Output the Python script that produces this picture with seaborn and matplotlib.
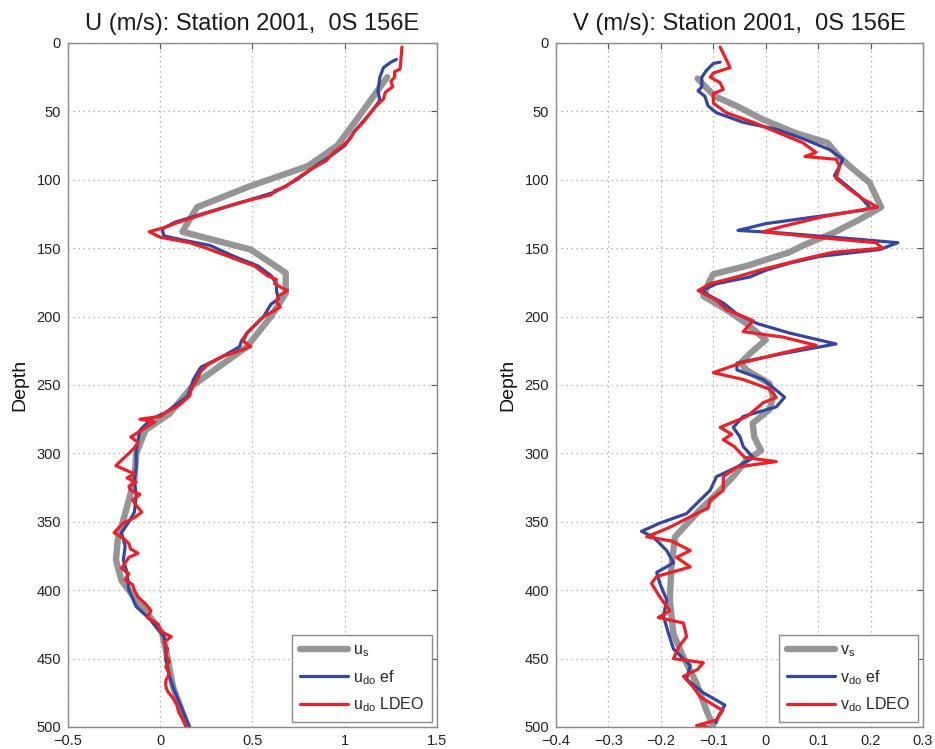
import numpy as np
import pandas as pd
import matplotlib
matplotlib.use("Agg")
import matplotlib.pyplot as plt
from matplotlib.ticker import FuncFormatter
import seaborn as sns

# ---------------- U component (m/s) ----------------
us_depth = [25, 40, 55, 75, 90, 105, 120, 138, 151, 168, 183, 200, 222, 250, 271, 283,
            300, 319, 344, 363, 378, 393, 407, 417, 431, 450, 471, 500]
us_val = [1.23, 1.15, 1.07, 0.96, 0.80, 0.48, 0.20, 0.12, 0.49, 0.68, 0.68, 0.60, 0.47,
          0.18, 0.05, -0.08, -0.13, -0.14, -0.19, -0.23, -0.24, -0.21, -0.13, -0.07,
          0.01, 0.04, 0.07, 0.15]

ub_depth = [12, 14, 18, 25, 35, 42, 51, 65, 75, 82, 90, 100, 109, 117, 124, 131, 136, 141,
            144, 148, 156, 163, 170, 176, 181, 187, 191, 200, 212, 218, 222, 229, 237, 246,
            258, 270, 275, 283, 290, 299, 310, 319, 331, 343, 350, 358, 368, 378, 387, 400,
            412, 417, 422, 434, 443, 451, 463, 471, 481, 494, 500]
ub_val = [1.28, 1.25, 1.21, 1.19, 1.18, 1.19, 1.14, 1.05, 1.00, 0.93, 0.84, 0.74, 0.62, 0.43,
          0.25, 0.08, 0.01, 0.02, 0.12, 0.27, 0.40, 0.53, 0.60, 0.63, 0.63, 0.64, 0.60, 0.56,
          0.47, 0.44, 0.43, 0.34, 0.22, 0.18, 0.15, 0.03, -0.05, -0.11, -0.12, -0.13, -0.13,
          -0.14, -0.13, -0.14, -0.17, -0.21, -0.19, -0.20, -0.18, -0.17, -0.13, -0.09, -0.05,
          0.02, 0.03, 0.03, 0.05, 0.07, 0.10, 0.14, 0.16]

ur_depth = [3, 19, 21, 25, 28, 32, 36, 41, 46, 51, 58, 65, 70, 75, 80, 86, 92, 100, 105, 108,
            111, 117, 124, 131, 135, 138, 142, 146, 150, 156, 163, 170, 173, 176, 179, 181,
            185, 189, 193, 197, 200, 212, 218, 222, 226, 229, 235, 240, 246, 252, 258, 265,
            270, 273, 275, 277, 283, 288, 292, 296, 300, 305, 309, 312, 315, 318, 321, 324,
            327, 330, 334, 338, 343, 347, 351, 355, 358, 362, 366, 370, 373, 376, 380, 384,
            388, 392, 396, 400, 405, 410, 415, 420, 425, 430, 434, 438, 443, 448, 452, 456,
            461, 466, 470, 474, 479, 484, 489, 494, 500]
ur_val = [1.31, 1.30, 1.27, 1.27, 1.25, 1.26, 1.22, 1.21, 1.17, 1.14, 1.10, 1.05, 1.03, 0.99,
          0.94, 0.90, 0.82, 0.73, 0.68, 0.62, 0.60, 0.42, 0.26, 0.10, 0.02, -0.06, 0.0, 0.16,
          0.25, 0.37, 0.51, 0.58, 0.63, 0.62, 0.66, 0.69, 0.64, 0.63, 0.65, 0.60, 0.56, 0.47,
          0.45, 0.49, 0.41, 0.34, 0.26, 0.22, 0.20, 0.17, 0.16, 0.10, 0.03, 0.0, -0.11, -0.03,
          -0.10, -0.16, -0.12, -0.14, -0.17, -0.21, -0.24, -0.19, -0.14, -0.18, -0.13, -0.17,
          -0.16, -0.11, -0.15, -0.13, -0.10, -0.14, -0.20, -0.23, -0.25, -0.20, -0.17, -0.16,
          -0.12, -0.17, -0.19, -0.21, -0.17, -0.19, -0.15, -0.14, -0.12, -0.08, -0.05, -0.07,
          -0.01, 0.00, 0.06, 0.02, 0.04, 0.03, 0.05, 0.03, 0.05, 0.03, 0.03, 0.04, 0.07, 0.09,
          0.10, 0.12, 0.14]

# ---------------- V component (m/s) ----------------
vs_depth = [26, 32, 39, 46, 56, 66, 73, 83, 92, 102, 112, 120, 129, 139, 148, 153, 163, 169,
            173, 185, 195, 205, 217, 227, 234, 239, 249, 259, 268, 278, 288, 298, 305, 317,
            332, 341, 349, 361, 383, 407, 432, 449, 468, 488, 500]
vs_val = [-0.13, -0.115, -0.097, -0.056, -0.005, 0.058, 0.118, 0.14, 0.166, 0.198, 0.21, 0.22,
          0.179, 0.128, 0.071, 0.045, -0.037, -0.10, -0.106, -0.119, -0.075, -0.037, 0.0,
          -0.03, -0.048, -0.037, 0.007, 0.014, 0.007, -0.025, -0.022, -0.009, -0.037, -0.062,
          -0.10, -0.125, -0.144, -0.173, -0.18, -0.183, -0.176, -0.157, -0.132, -0.113, -0.10]

vb_depth = [14, 15, 20, 25, 32, 35, 39, 46, 51, 58, 63, 70, 78, 85, 90, 97, 105, 112, 120,
            122, 127, 132, 137, 139, 144, 146, 151, 156, 161, 166, 171, 176, 181, 185, 190,
            198, 205, 212, 220, 227, 234, 239, 246, 256, 259, 266, 273, 281, 288, 295, 303,
            310, 317, 327, 336, 344, 351, 357, 361, 371, 380, 387, 395, 407, 419, 431, 443,
            455, 465, 475, 484, 492, 497]
vb_val = [-0.087, -0.10, -0.113, -0.122, -0.122, -0.129, -0.116, -0.11, -0.094, -0.043, 0.02,
          0.071, 0.122, 0.147, 0.141, 0.131, 0.157, 0.179, 0.198, 0.19, 0.096, 0.001, -0.053,
          0.033, 0.192, 0.252, 0.217, 0.103, 0.045, 0.001, -0.03, -0.094, -0.122, -0.106,
          -0.081, -0.055, -0.017, 0.045, 0.134, 0.033, -0.055, -0.055, -0.005, 0.027, 0.036,
          0.02, -0.043, -0.062, -0.049, -0.043, -0.024, -0.055, -0.094, -0.106, -0.13, -0.151,
          -0.202, -0.237, -0.215, -0.189, -0.176, -0.208, -0.202, -0.189, -0.195, -0.186,
          -0.176, -0.144, -0.151, -0.119, -0.078, -0.09, -0.095]

vr_depth = [3, 10, 18, 22, 25, 29, 34, 37, 44, 51, 58, 66, 73, 80, 83, 85, 90, 99, 107, 114,
            120, 127, 134, 138, 142, 146, 150, 153, 158, 166, 171, 176, 181, 188, 195, 203,
            211, 215, 221, 227, 234, 241, 246, 253, 259, 263, 267, 273, 281, 286, 290, 295,
            303, 306, 310, 317, 327, 334, 340, 344, 354, 361, 364, 371, 376, 383, 390, 395,
            405, 415, 420, 424, 434, 441, 450, 453, 458, 463, 471, 478, 488, 495, 499, 500]
vr_val = [-0.087, -0.078, -0.068, -0.10, -0.106, -0.087, -0.081, -0.10, -0.10, -0.075, -0.024,
          0.027, 0.071, 0.096, 0.075, 0.134, 0.141, 0.134, 0.16, 0.185, 0.213, 0.109, 0.033,
          -0.005, 0.096, 0.21, 0.223, 0.128, 0.071, -0.011, -0.055, -0.106, -0.129, -0.094,
          -0.075, -0.024, -0.043, 0.033, 0.096, 0.027, -0.048, -0.10, -0.043, 0.007, 0.02,
          -0.005, -0.017, -0.036, -0.087, -0.065, -0.081, -0.06, -0.04, 0.02, -0.055, -0.081,
          -0.081, -0.106, -0.11, -0.132, -0.183, -0.227, -0.18, -0.144, -0.17, -0.144, -0.208,
          -0.218, -0.202, -0.183, -0.205, -0.157, -0.151, -0.165, -0.176, -0.119, -0.13,
          -0.157, -0.138, -0.125, -0.082, -0.095, -0.132, -0.11]

depth_ticks = [0, 50, 100, 150, 200, 250, 300, 350, 400, 450, 500]
u_ticks = [-0.5, 0, 0.5, 1, 1.5]
v_ticks = [-0.4, -0.3, -0.2, -0.1, 0, 0.1, 0.2, 0.3]

GRAY = "#959595"
BLUE = "#3447a0"
RED = "#ee1f26"
FRAME = "#8a8a8a"

sns.set_theme(style="white")
plt.rcParams["font.family"] = ["Liberation Sans", "DejaVu Sans"]
plt.rcParams["mathtext.fontset"] = "custom"
plt.rcParams["mathtext.rm"] = "Liberation Sans"
plt.rcParams["mathtext.it"] = "Liberation Sans"
plt.rcParams["axes.unicode_minus"] = True

fig = plt.figure(figsize=(9.35, 7.49), dpi=100)
ax_u = fig.add_axes([0.0727, 0.0294, 0.3947, 0.9132])
ax_v = fig.add_axes([0.5947, 0.0294, 0.3925, 0.9132])


def fmt(x, pos):
    s = "%g" % x
    return s.replace("-", "\u2212")


def draw_profile(ax, comp, s_d, s_v, b_d, b_v, r_d, r_v, xlim, xticks):
    frames = [
        (pd.DataFrame({"val": s_v, "depth": s_d}), GRAY, 4.6,
         r"$\mathregular{%s_{s}}$" % comp),
        (pd.DataFrame({"val": b_v, "depth": b_d}), BLUE, 2.3,
         r"$\mathregular{%s_{do}}$ ef" % comp),
        (pd.DataFrame({"val": r_v, "depth": r_d}), RED, 2.3,
         r"$\mathregular{%s_{do}}$ LDEO" % comp),
    ]
    for df, col, lw, lab in frames:
        sns.lineplot(data=df, x="val", y="depth", orient="y", sort=False,
                     estimator=None, color=col, linewidth=lw, label=lab, ax=ax)

    ax.set_xlim(*xlim)
    ax.set_ylim(500, 0)
    ax.set_xticks(xticks)
    ax.set_yticks(depth_ticks)
    ax.xaxis.set_major_formatter(FuncFormatter(fmt))
    ax.grid(True, linestyle=(0, (1, 3)), color="#a0a0a0", linewidth=0.9)
    for sp in ax.spines.values():
        sp.set_color(FRAME)
        sp.set_linewidth(1.0)
    ax.tick_params(direction="in", top=True, right=True, length=4, width=0.8,
                   color="#555555", labelsize=10.5, labelcolor="#222222", pad=5)
    ax.set_xlabel("")
    ax.set_ylabel("Depth", fontsize=14, color="#111111", labelpad=6)
    ax.set_title("%s (m/s): Station 2001,  0S 156E" % comp.upper(), fontsize=17,
                 color="#1a1a1a", pad=9)
    leg = ax.legend(loc="lower right", fontsize=11.5, handlelength=3.0,
                    handletextpad=0.3, borderaxespad=0.3, labelspacing=0.55,
                    fancybox=False, framealpha=1.0, edgecolor=FRAME,
                    borderpad=0.5)
    leg.get_frame().set_linewidth(1.0)


draw_profile(ax_u, "u", us_depth, us_val, ub_depth, ub_val, ur_depth, ur_val,
             (-0.5, 1.5), u_ticks)
draw_profile(ax_v, "v", vs_depth, vs_val, vb_depth, vb_val, vr_depth, vr_val,
             (-0.4, 0.3), v_ticks)

fig.savefig("out.png", dpi=100)
